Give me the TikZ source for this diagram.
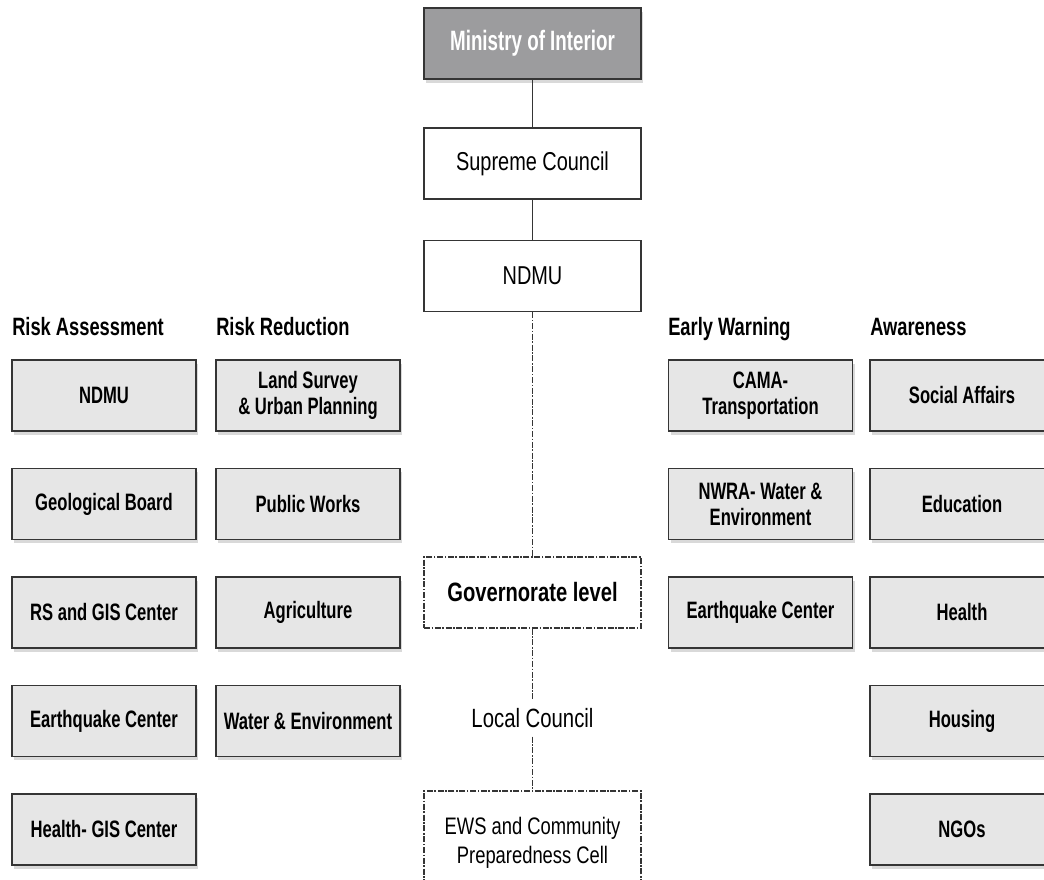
\documentclass[tikz,border=0pt]{standalone}
\usepackage{fontspec}
\setmainfont{Liberation Sans}
\newfontfamily\regfont[FakeStretch=0.77]{Liberation Sans}
\newfontfamily\boldfont[FakeStretch=0.70]{Liberation Sans}
\newfontfamily\headfont[FakeStretch=0.73]{Liberation Sans}
\newfontfamily\govfont[FakeStretch=0.76]{Liberation Sans}
\newfontfamily\minfont[FakeStretch=0.67]{Liberation Sans}
\usepackage{xcolor}
\usetikzlibrary{shadows, positioning}
\definecolor{boxgray}{HTML}{E6E6E6}
\definecolor{mingray}{HTML}{9C9C9E}
\definecolor{edgegray}{HTML}{353535}

\begin{document}
\begin{tikzpicture}[
    x=0.75pt, y=-0.75pt,
    node distance=27pt,
    topbox/.style={rectangle, draw=edgegray, line width=1.1pt, fill=white, minimum width=162.75pt, minimum height=53.25pt, align=center, inner sep=0pt, font=\regfont\fontsize{19.4}{23}\selectfont},
    minbox/.style={topbox, fill=mingray, text=white, font=\minfont\bfseries\fontsize{21}{24}\selectfont, drop shadow={shadow xshift=1.5pt, shadow yshift=-3pt, opacity=0.3}},
    unitbox/.style={rectangle, draw=edgegray, line width=1.1pt, fill=boxgray, minimum width=138pt, minimum height=53.25pt, align=center, inner sep=0pt, font=\boldfont\bfseries\fontsize{17.8}{19.5}\selectfont, drop shadow={shadow xshift=1.5pt, shadow yshift=-3pt, opacity=0.3}},
    levelbox/.style={rectangle, draw=edgegray, line width=0.8pt, dash pattern=on 4.5pt off 1.2pt on 1.2pt off 1.2pt, minimum width=162.75pt, align=center, inner sep=0pt},
    header/.style={anchor=base west, inner sep=0pt, font=\headfont\bfseries\fontsize{18.8}{22}\selectfont},
    link/.style={draw=edgegray, line width=0.75pt},
    dashlink/.style={link, dash pattern=on 4.5pt off 1.2pt on 1.2pt off 1.2pt}
]
\useasboundingbox (0,0) rectangle (1044,879);

% central chain
\node[minbox] (ministry) at (532.5,43.5) {Ministry of Interior};
\node[topbox] (supreme) at (532.5,163.5) {Supreme Council};
\node[topbox] (ndmu) at (532.5,276) {NDMU};
\node[levelbox, minimum height=53.25pt, font=\govfont\bfseries\fontsize{19.9}{23}\selectfont] (governorate) at (532.5,592.5) {Governorate level};
\node[inner xsep=2pt, inner ysep=6.5pt, font=\regfont\fontsize{19.8}{23}\selectfont] (local) at (532.5,718) {Local Council};
\node[levelbox, minimum height=78pt, font=\regfont\fontsize{17.9}{21.75}\selectfont] (ews) at (532.5,843) {EWS and Community\\Preparedness Cell};

\draw[link] (ministry) -- (supreme);
\draw[link] (supreme) -- (ndmu);
\draw[dashlink] (ndmu) -- (governorate);
\draw[dashlink] (governorate) -- (local);
\draw[dashlink] (local) -- (ews);

% column headers
\node[header] (hassess) at (12,335) {Risk Assessment};
\node[header] (hreduce) at (216,335) {Risk Reduction};
\node[header] (hwarn) at (668,335) {Early Warning};
\node[header] (haware) at (870,335) {Awareness};

% risk assessment
\node[unitbox] (ra1) at (104,395.5) {NDMU};
\node[unitbox, below=of ra1] (ra2) {Geological Board};
\node[unitbox, below=of ra2] (ra3) {RS and GIS Center};
\node[unitbox, below=of ra3] (ra4) {Earthquake Center};
\node[unitbox, below=of ra4] (ra5) {Health- GIS Center};

% risk reduction
\node[unitbox] (rr1) at (308,395.5) {Land Survey\\\& Urban Planning};
\node[unitbox, below=of rr1] (rr2) {Public Works};
\node[unitbox, below=of rr2] (rr3) {Agriculture};
\node[unitbox, below=of rr3] (rr4) {Water \& Environment};

% early warning
\node[unitbox] (ew1) at (760.5,395.5) {CAMA-\\Transportation};
\node[unitbox, below=of ew1] (ew2) {NWRA- Water \&\\Environment};
\node[unitbox, below=of ew2] (ew3) {Earthquake Center};

% awareness
\node[unitbox] (aw1) at (962,395.5) {Social Affairs};
\node[unitbox, below=of aw1] (aw2) {Education};
\node[unitbox, below=of aw2] (aw3) {Health};
\node[unitbox, below=of aw3] (aw4) {Housing};
\node[unitbox, below=of aw4] (aw5) {NGOs};

\end{tikzpicture}
\end{document}
